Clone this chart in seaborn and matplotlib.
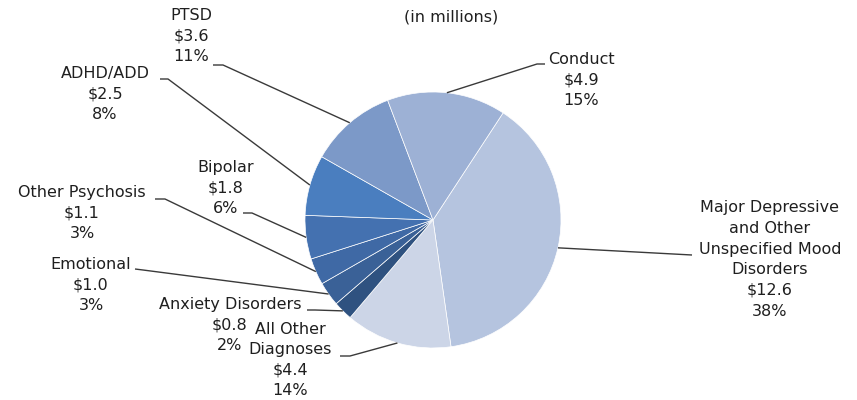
import numpy as np
import matplotlib
matplotlib.use("Agg")
import matplotlib.pyplot as plt
import seaborn as sns

# dados do grafico, ordem horaria a partir do topo-direito
categorias = ["Major Depressive\nand Other\nUnspecified Mood\nDisorders",
              "All Other\nDiagnoses", "Anxiety Disorders", "Emotional",
              "Other Psychosis", "Bipolar", "ADHD/ADD", "PTSD", "Conduct"]
valores = [12.6, 4.4, 0.8, 1.0, 1.1, 1.8, 2.5, 3.6, 4.9]
percentuais = [38, 14, 2, 3, 3, 6, 8, 11, 15]
cores = ["#b5c4df", "#ccd5e7", "#2f5280", "#3a6197", "#3f69a5",
         "#4471b0", "#4a7ebf", "#7c99c8", "#9db1d5"]

# posicao dos rotulos (pixels, y para baixo): centro do texto, inicio e cotovelo da linha
pos_texto = [(770, 259.5), (290, 360), (230, 325), (91, 285), (82, 213),
             (226, 188), (105, 94), (191, 36), (581, 80)]
inicio_linha = [(692, 255), (340, 356), (307, 310), (135, 269), (155, 199),
                (243, 213), (160, 79), (213, 65), (545, 64)]
cotovelo = [(692, 255), (350, 356), (315, 310), (143, 270), (165, 199),
            (252, 213), (168, 79), (223, 65), (537, 64)]

sns.set_theme(style="white")
plt.rcParams["font.family"] = ["DejaVu Sans"]

fig = plt.figure(figsize=(8.57, 4.0), dpi=100)
ax = fig.add_axes([0, 0, 1, 1])

centro = (433, 220)
raio = 128
wedges, _ = ax.pie(valores, colors=cores, startangle=-56.8, counterclock=True,
                   center=centro, radius=raio,
                   wedgeprops=dict(edgecolor="white", linewidth=0.5))

ax.set_xlim(0, 857)
ax.set_ylim(400, 0)
ax.set_aspect("equal")
ax.axis("off")

for w, nome, v, p, (tx, ty), (sx, sy), (ex, ey) in zip(
        wedges, categorias, valores, percentuais, pos_texto, inicio_linha, cotovelo):
    ang = np.deg2rad((w.theta1 + w.theta2) / 2)
    px = centro[0] + raio * np.cos(ang)
    py = centro[1] + raio * np.sin(ang)
    ax.plot([sx, ex, px], [sy, ey, py], color="#3a3a3a", lw=1.0, solid_capstyle="butt")
    ax.text(tx, ty, f"{nome}\n\\${v:.1f}\n{p}%", ha="center", va="center",
            multialignment="center", fontsize=11.5, linespacing=1.47, color="#1f1f1f")

ax.text(451, 17, "(in millions)", ha="center", va="center", fontsize=11.5, color="#1f1f1f")

plt.savefig("out.png", dpi=100)
plt.close()
